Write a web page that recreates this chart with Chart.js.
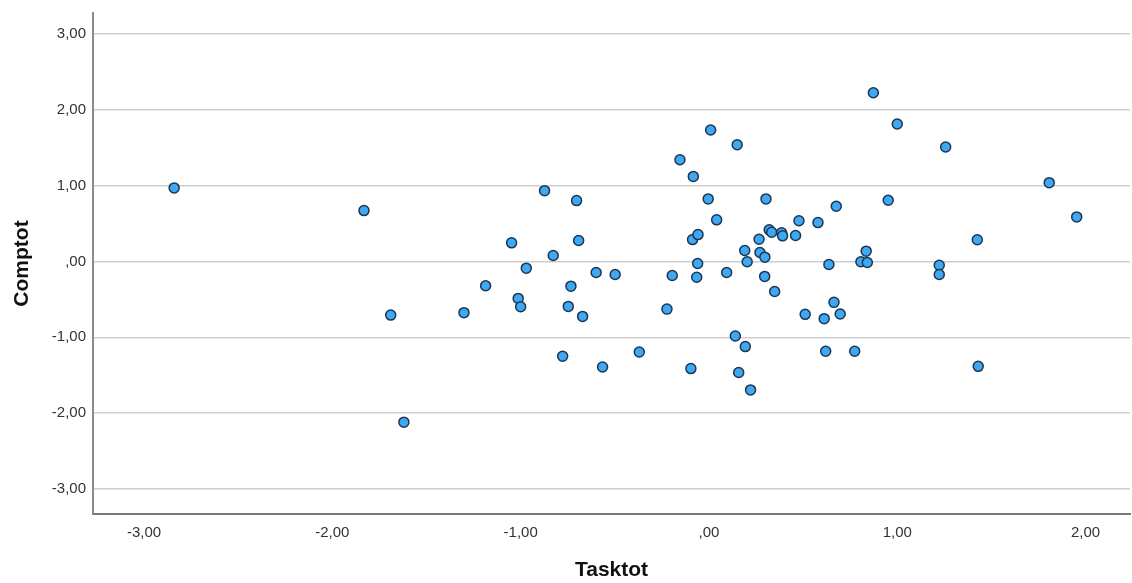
<!DOCTYPE html>
<html>
<head>
<meta charset="utf-8">
<script src="https://cdn.jsdelivr.net/npm/chart.js@4.4.1/dist/chart.umd.min.js"></script>
<style>
  html, body { margin: 0; padding: 0; background: #ffffff; }
  #wrap { width: 1132px; height: 583px; position: relative; }
</style>
</head>
<body>
<div id="wrap"><canvas id="c" width="1132" height="583"></canvas></div>
<script>
const tasktot = [
  -2.840, -1.832, -1.690, -1.620, -1.301, -1.186, -1.048, -1.013, -1.000, -0.970,
  -0.873, -0.827, -0.777, -0.747, -0.733, -0.703, -0.692, -0.671, -0.599, -0.565,
  -0.498, -0.370, -0.223, -0.195, -0.154, -0.096, -0.087, -0.083, -0.065, -0.060,
  -0.058, -0.004, 0.009, 0.041, 0.094, 0.140, 0.150, 0.158, 0.190, 0.193,
  0.203, 0.221, 0.266, 0.271, 0.296, 0.297, 0.303, 0.320, 0.333, 0.349,
  0.386, 0.391, 0.460, 0.478, 0.511, 0.579, 0.612, 0.620, 0.637, 0.664,
  0.676, 0.697, 0.774, 0.807, 0.835, 0.841, 0.873, 0.952, 1.000, 1.223,
  1.223, 1.257, 1.425, 1.430, 1.807, 1.953
];
const comptot = [
  0.970, 0.671, -0.707, -2.118, -0.675, -0.320, 0.246, -0.487, -0.596, -0.088,
  0.934, 0.079, -1.250, -0.592, -0.325, 0.803, 0.276, -0.724, -0.145, -1.391,
  -0.171, -1.193, -0.628, -0.184, 1.342, -1.412, 0.289, 1.122, -0.207, -0.026,
  0.355, 0.825, 1.733, 0.549, -0.145, -0.983, 1.539, -1.464, 0.145, -1.122,
  -0.004, -1.693, 0.293, 0.118, -0.197, 0.057, 0.825, 0.417, 0.386, -0.395,
  0.378, 0.338, 0.342, 0.537, -0.697, 0.513, -0.754, -1.184, -0.039, -0.539,
  0.728, -0.693, -1.184, -0.004, 0.136, -0.013, 2.224, 0.807, 1.812, -0.049,
  -0.171, 1.509, 0.286, -1.382, 1.039, 0.588
];
const xTicks = [-3, -2, -1, 0, 1, 2];
const yTicks = [-3, -2, -1, 0, 1, 2, 3];
const xTitle = 'Tasktot';
const yTitle = 'Comptot';

function fmt(v) {
  let s = Math.abs(v).toFixed(2).replace('.', ',');
  if (s.startsWith('0,')) s = s.slice(1);
  return (v < 0 ? '-' : '') + s;
}

const points = tasktot.map((x, i) => ({ x: x, y: comptot[i] }));

new Chart(document.getElementById('c'), {
  type: 'scatter',
  data: {
    datasets: [{
      data: points,
      pointRadius: 5,
      pointHoverRadius: 5,
      pointBackgroundColor: '#3ea9f2',
      pointBorderColor: '#1c3652',
      pointBorderWidth: 1.5
    }]
  },
  options: {
    responsive: false,
    animation: false,
    events: [],
    layout: { autoPadding: false, padding: { top: 13, right: 2, left: 0, bottom: 0 } },
    plugins: { legend: { display: false }, tooltip: { enabled: false } },
    scales: {
      x: {
        type: 'linear',
        min: -3.271,
        max: 2.236,
        afterBuildTicks: s => { s.ticks = xTicks.map(v => ({ value: v })); },
        afterFit: s => { s.height = 69; s.paddingLeft = 0; s.paddingRight = 0; },
        grid: { display: false, drawTicks: false },
        border: { display: true, color: '#7a7a7a', width: 2 },
        ticks: {
          padding: 10,
          color: '#333333',
          font: { family: 'Liberation Sans, Arial, sans-serif', size: 15 },
          callback: v => fmt(v),
          maxRotation: 0
        },
        title: {
          display: true,
          text: xTitle,
          color: '#111111',
          font: { family: 'Liberation Sans, Arial, sans-serif', size: 21, weight: 'bold' },
          padding: { top: 0, bottom: 0 }
        }
      },
      y: {
        type: 'linear',
        min: -3.329,
        max: 3.276,
        afterBuildTicks: s => { s.ticks = yTicks.map(v => ({ value: v })); },
        afterFit: s => { s.width = 93; s.paddingTop = 0; s.paddingBottom = 0; },
        grid: { display: true, drawTicks: false, color: '#cfcfcf', lineWidth: 1.5 },
        border: { display: true, color: '#8a8a8a', width: 2 },
        ticks: {
          padding: 7,
          color: '#333333',
          font: { family: 'Liberation Sans, Arial, sans-serif', size: 15 },
          callback: v => fmt(v)
        },
        title: {
          display: true,
          text: yTitle,
          color: '#111111',
          font: { family: 'Liberation Sans, Arial, sans-serif', size: 21, weight: 'bold' },
          padding: { top: 10, bottom: 0 }
        }
      }
    }
  }
});
</script>
</body>
</html>
